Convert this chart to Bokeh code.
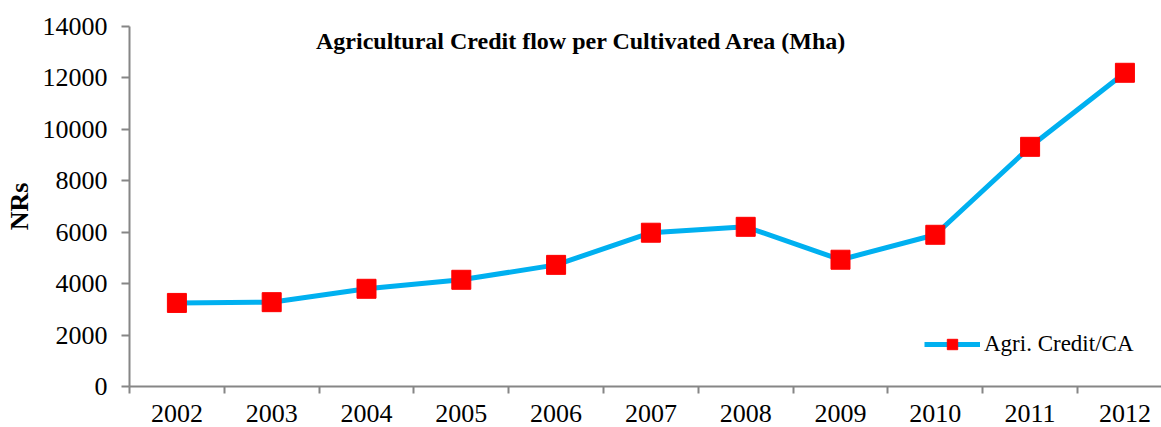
from bokeh.plotting import figure
from bokeh.models import Range1d, FixedTicker, Label, Legend, LegendItem
from bokeh.embed import file_html
from bokeh.resources import INLINE

years = ["2002", "2003", "2004", "2005", "2006", "2007", "2008", "2009", "2010", "2011", "2012"]
credit_per_ca = [3250, 3280, 3800, 4150, 4730, 5980, 6210, 4930, 5900, 9320, 12200]
y_ticks = [0, 2000, 4000, 6000, 8000, 10000, 12000, 14000]
title_text = "Agricultural Credit flow per Cultivated Area (Mha)"
series_name = "Agri. Credit/CA"
y_label = "NRs"

FONT = "'Liberation Serif', serif"
xs = list(range(len(years)))

p = figure(width=1161, height=427, output_backend="svg", toolbar_location=None,
           x_range=Range1d(-0.5, 10.386), y_range=Range1d(0, 14000),
           min_border_left=129, min_border_right=0, min_border_top=26, min_border_bottom=41)
p.outline_line_color = None
p.xgrid.grid_line_color = None
p.ygrid.grid_line_color = None
p.background_fill_color = "white"
p.border_fill_color = "white"

line = p.line(xs, credit_per_ca, line_color="#00B0F0", line_width=5)
marks = p.scatter(xs, credit_per_ca, marker="square", size=19, fill_color="#FF0000", line_color="#FF0000")

# x axis: labels at centers, ticks at boundaries
p.xaxis.ticker = FixedTicker(ticks=xs, minor_ticks=[i - 0.5 for i in range(len(years) + 1)])
p.xaxis.major_label_overrides = {i: y for i, y in enumerate(years)}
p.xaxis.major_tick_line_color = None
p.xaxis.minor_tick_line_color = "#868686"
p.xaxis.minor_tick_in = 0
p.xaxis.minor_tick_out = 7
p.xaxis.minor_tick_line_width = 2
p.xaxis.axis_line_color = "#868686"
p.xaxis.axis_line_width = 2
p.xaxis.major_label_text_font = FONT
p.xaxis.major_label_text_font_size = "26px"
p.xaxis.major_label_text_color = "black"
p.xaxis.major_label_standoff = 11

p.yaxis.ticker = FixedTicker(ticks=y_ticks)
p.yaxis.minor_tick_line_color = None
p.yaxis.major_tick_line_color = "#868686"
p.yaxis.major_tick_line_width = 2
p.yaxis.major_tick_in = 0
p.yaxis.major_tick_out = 8
p.yaxis.axis_line_color = "#868686"
p.yaxis.axis_line_width = 2
p.yaxis.major_label_text_font = FONT
p.yaxis.major_label_text_font_size = "26px"
p.yaxis.major_label_text_color = "black"
p.yaxis.major_label_standoff = 14
p.yaxis.axis_label = y_label
p.yaxis.axis_label_text_font = FONT
p.yaxis.axis_label_text_font_size = "26px"
p.yaxis.axis_label_text_font_style = "bold"
p.yaxis.axis_label_text_color = "black"
p.yaxis.axis_label_standoff = 6

title = Label(x=4.268, y=13455, text=title_text, text_font=FONT, text_font_size="24px",
              text_font_style="bold", text_align="center", text_baseline="middle", text_color="black")
p.add_layout(title)

legend = Legend(items=[LegendItem(label=series_name, renderers=[line, marks])],
                location=(795, 29), border_line_color=None, background_fill_alpha=0,
                label_text_font=FONT, label_text_font_size="23px", label_text_color="black",
                glyph_width=56, glyph_height=26, padding=0, margin=0, label_standoff=4)
p.add_layout(legend)

open("out.html", "w").write(file_html(p, INLINE))
